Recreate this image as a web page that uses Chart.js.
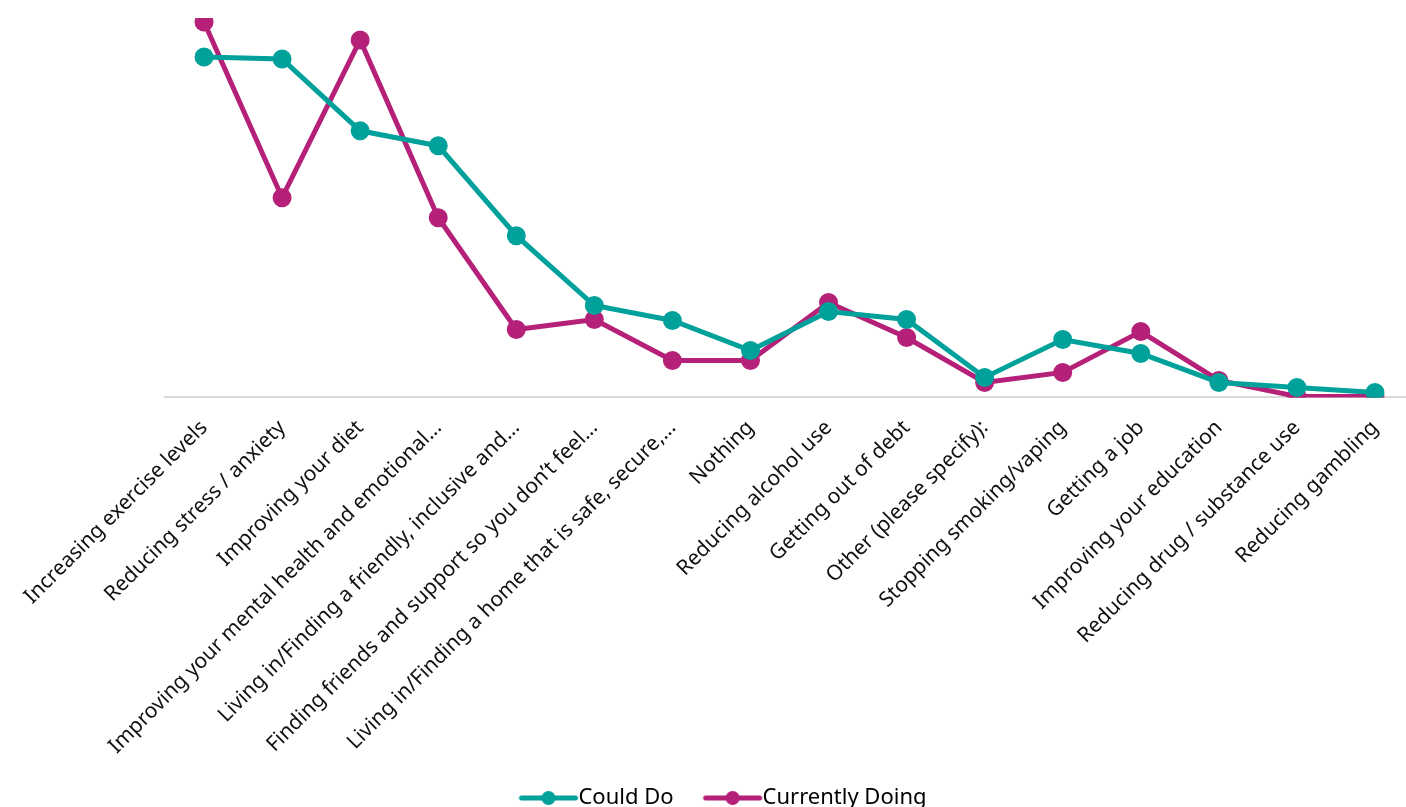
<!DOCTYPE html>
<html>
<head>
<meta charset="utf-8">
<script src="https://cdn.jsdelivr.net/npm/chart.js@4/dist/chart.umd.min.js"></script>
<style>
  html, body { margin: 0; padding: 0; background: #fff; overflow: hidden; }
  #wrap { width: 1426px; height: 819px; }
</style>
</head>
<body>
<div id="wrap"><canvas id="myChart"></canvas></div>
<script>
// Categories and series values
const categories = [
  "Increasing exercise levels",
  "Reducing stress / anxiety",
  "Improving your diet",
  "Improving your mental health and emotional…",
  "Living in/Finding a friendly, inclusive and…",
  "Finding friends and support so you don’t feel…",
  "Living in/Finding a home that is safe, secure,…",
  "Nothing",
  "Reducing alcohol use",
  "Getting out of debt",
  "Other (please specify):",
  "Stopping smoking/vaping",
  "Getting a job",
  "Improving your education",
  "Reducing drug / substance use",
  "Reducing gambling",
];
const couldDo = [341, 339, 267, 252, 162, 92, 77, 47, 86, 78, 20, 58, 44, 15, 10, 5];
const currentlyDoing = [376, 200, 358, 180, 68, 78, 37, 37, 95, 60, 15, 25, 66, 17, 1, 1];

const TEAL = "#00a19a";
const PLUM = "#b52078";

// Legend marker: short line with a dot in the middle.
// The image is wider than the legend box so the line sits
// right next to the text with some blank space before it.
function lineMarker(color) {
  const c = document.createElement("canvas");
  c.width = 110;
  c.height = 16;
  const g = c.getContext("2d");
  g.strokeStyle = color;
  g.lineWidth = 5;
  g.lineCap = "round";
  g.beginPath();
  g.moveTo(43, 8);
  g.lineTo(97, 8);
  g.stroke();
  g.fillStyle = color;
  g.beginPath();
  g.arc(70, 8, 7, 0, Math.PI * 2);
  g.fill();
  return c;
}

const ctx = document.getElementById("myChart").getContext("2d");
const chart = new Chart(ctx, {
  type: "line",
  data: {
    labels: categories,
    datasets: [
      {
        label: "Could Do",
        data: couldDo,
        borderColor: TEAL,
        backgroundColor: TEAL,
        borderWidth: 5,
        pointRadius: 7,
        pointHoverRadius: 7,
        tension: 0,
      },
      {
        label: "Currently Doing",
        data: currentlyDoing,
        borderColor: PLUM,
        backgroundColor: PLUM,
        borderWidth: 5,
        pointRadius: 7,
        pointHoverRadius: 7,
        tension: 0,
      },
    ],
  },
  options: {
    responsive: true,
    maintainAspectRatio: false,
    animation: false,
    layout: { padding: { left: 0, right: 0, top: 18, bottom: 0 } },
    plugins: {
      tooltip: { enabled: false },
      legend: {
        position: "bottom",
        labels: {
          usePointStyle: true,
          pointStyleWidth: 68,
          font: { family: "Noto Sans", size: 22 },
          color: "#111",
          padding: 10,
          generateLabels: (chart) =>
            chart.data.datasets.map((ds, i) => ({
              text: ds.label,
              pointStyle: lineMarker(ds.borderColor),
              fillStyle: ds.borderColor,
              strokeStyle: ds.borderColor,
              lineWidth: 0,
              datasetIndex: i,
              hidden: false,
            })),
        },
      },
    },
    scales: {
      x: {
        offset: true,
        // leave a fixed gap on the left of the plot area
        afterFit: (scale) => {
          scale.paddingLeft = 165;
        },
        grid: { display: false, drawTicks: false },
        border: { display: true, color: "#d9d9d9", width: 2 },
        ticks: {
          minRotation: 45,
          maxRotation: 45,
          autoSkip: false,
          padding: 18,
          color: "#111",
          font: { family: "Noto Sans", size: 21 },
        },
      },
      y: {
        display: false,
        min: 0,
        max: 380,
      },
    },
  },
});
</script>
</body>
</html>
